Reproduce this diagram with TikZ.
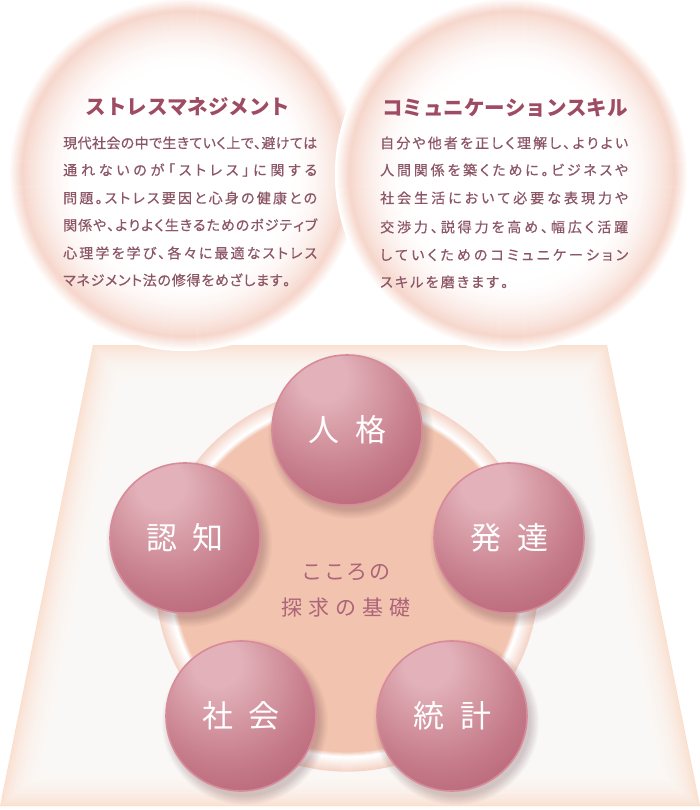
\documentclass[tikz,border=0pt]{standalone}
\usepackage{fontspec}
\setmainfont{Noto Sans CJK JP}
\newfontfamily\bodyfont{Noto Sans CJK JP}[FakeBold=0.5,RawFeature=+palt]
\usetikzlibrary{calc}
\definecolor{peach}{HTML}{FADFCF}
\definecolor{bubB}{HTML}{F6D6CB}
\definecolor{coreB}{HTML}{F2C4AF}
\definecolor{ringB}{HTML}{F5D5C8}
\definecolor{sphhi}{HTML}{E2B1B9}
\definecolor{sphmid}{HTML}{C67C8A}
\definecolor{sphdk}{HTML}{A94F67}
\definecolor{sphrim}{HTML}{D88A9A}
\definecolor{titlecol}{HTML}{9E4B64}
\definecolor{bodycol}{HTML}{8C5666}
\definecolor{corecol}{HTML}{AC6479}
\pgfdeclareradialshading{sphere}{\pgfpoint{-9bp}{20bp}}{color(0bp)=(sphhi); color(8bp)=(sphhi); color(28bp)=(sphmid); color(50bp)=(sphdk); color(70bp)=(sphdk)}
\def\spr#1{#1\sprx}
\def\sprx#1{\ifx#1\relax\else\hfill#1\expandafter\sprx\fi}
\tikzset{
  spherenode/.style={circle, minimum size=150pt, inner sep=0pt, shade, shading=sphere, draw=sphrim, line width=1.6pt, text=white, font=\fontsize{31}{31}\selectfont},
  titletxt/.style={text=titlecol, font=\fontsize{20.5}{20.5}\selectfont\bfseries, inner sep=0pt},
  bodytxt/.style={text=bodycol, font=\fontsize{14}{14}\bodyfont, inner sep=0pt, anchor=west},
  coretxt/.style={text=corecol, font=\fontsize{21}{21}\selectfont, inner sep=0pt},
  shadowdisc/.style={fill=black!55!sphdk, opacity=0.025}
}
\newcommand\sphereat[4]{%
  \foreach \k in {0,...,9}{\fill[shadowdisc] ({#2+4},{#3+6}) circle[radius={74pt+\k pt}];}
  \node[spherenode] (#1) at (#2,#3) {\hbox to 78pt{\spr #4\relax}};}
\newcommand\bubbleat[1]{%
  \foreach \r in {104,106,...,176}{%
    \pgfmathsetmacro\p{\r<=163 ? 100*((\r-104)/59)^2 : 100*(176-\r)/13}%
    \draw[bubB!\p!white, line width=2.3pt] (#1) circle[radius=\r pt];}}
\begin{document}
\begin{tikzpicture}[x=1pt,y=-1pt]
\useasboundingbox (0,0) rectangle (700,810);
\fill[white] (0,0) rectangle (700,810);
% trapezoid base
\fill[peach] (93,345) -- (607,345) -- (700,806) -- (0,806) -- cycle;
\foreach \d in {1,3,...,41}{
  \fill[white, opacity=0.12] ({93+0.818*\d},{345+\d}) -- ({607-0.818*\d},{345+\d}) -- ({700-1.222*\d},{806-\d}) -- ({1.222*\d},{806-\d}) -- cycle;
}
% top bubbles
\coordinate (stressbubble) at (185,174);
\coordinate (commbubble) at (512,174);
\bubbleat{stressbubble}
\bubbleat{commbubble}
% titles
\node[titletxt] (stresstitle) at (188,107) {ストレスマネジメント};
\node[titletxt] (commtitle) at (505,108) {コミュニケーションスキル};
% left body
\node[bodytxt] (sl1) at (63,143) {\hbox to 254pt{\spr 現代社会の中で生きていく上で、避けては\relax}};
\node[bodytxt] (sl2) at (63,170) {\hbox to 254pt{\spr 通れないのが「ストレス」に関する\relax}};
\node[bodytxt] (sl3) at (63,198) {\hbox to 254pt{\spr 問題。ストレス要因と心身の健康との\relax}};
\node[bodytxt] (sl4) at (63,225) {\hbox to 254pt{\spr 関係や、よりよく生きるためのポジティブ\relax}};
\node[bodytxt] (sl5) at (63,253) {\hbox to 254pt{\spr 心理学を学び、各々に最適なストレス\relax}};
\node[bodytxt] (sl6) at (63,280) {\hbox to 227pt{\spr マネジメント法の修得をめざします。\relax}};
% right body
\node[bodytxt] (cl1) at (380,143) {\hbox to 248pt{\spr 自分や他者を正しく理解し、よりよい\relax}};
\node[bodytxt] (cl2) at (380,170) {\hbox to 248pt{\spr 人間関係を築くために。ビジネスや\relax}};
\node[bodytxt] (cl3) at (380,198) {\hbox to 248pt{\spr 社会生活において必要な表現力や\relax}};
\node[bodytxt] (cl4) at (380,227) {\hbox to 248pt{\spr 交渉力、説得力を高め、幅広く活躍\relax}};
\node[bodytxt] (cl5) at (380,255) {\hbox to 248pt{\spr していくためのコミュニケーション\relax}};
\node[bodytxt] (cl6) at (380,282) {\hbox to 128pt{\spr スキルを磨きます。\relax}};
% core
\coordinate (core) at (347,580);
\fill[coreB] (core) circle[radius=174pt];
\foreach \r in {172,...,177}{\pgfmathsetmacro\p{100*(177-\r)/5}\draw[coreB!\p!white, line width=1.3pt] (core) circle[radius=\r pt];}
\foreach \r in {178,...,191}{\pgfmathsetmacro\p{100*(\r-178)/13}\draw[ringB!\p!white, line width=1.3pt] (core) circle[radius=\r pt];}
\node[coretxt] (coreA) at (346,572) {\hbox to 90pt{\spr こころの\relax}};
\node[coretxt] (coreBtxt) at (346,608) {\hbox to 129pt{\spr 探求の基礎\relax}};
% spheres
\sphereat{jinkaku}{347}{430}{人格}
\sphereat{ninchi}{185}{538}{認知}
\sphereat{hattatsu}{509}{538}{発達}
\sphereat{shakai}{241}{716}{社会}
\sphereat{toukei}{452}{716}{統計}
\end{tikzpicture}
\end{document}
